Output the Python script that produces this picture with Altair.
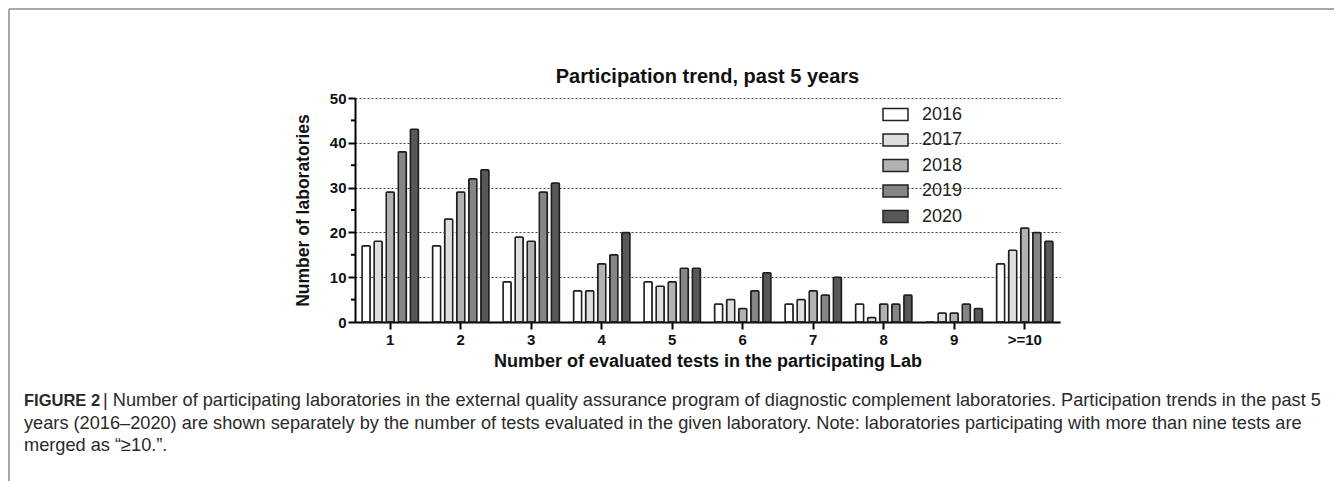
import altair as alt
import pandas as pd

categories = ["1", "2", "3", "4", "5", "6", "7", "8", "9", ">=10"]
years = ["2016", "2017", "2018", "2019", "2020"]
v2016 = [17, 17, 9, 7, 9, 4, 4, 4, 0, 13]
v2017 = [18, 23, 19, 7, 8, 5, 5, 1, 2, 16]
v2018 = [29, 29, 18, 13, 9, 3, 7, 4, 2, 21]
v2019 = [38, 32, 29, 15, 12, 7, 6, 4, 4, 20]
v2020 = [43, 34, 31, 20, 12, 11, 10, 6, 3, 18]
colors = ["#ffffff", "#dedede", "#b2b2b2", "#858585", "#585858"]
y_ticks = [0, 10, 20, 30, 40, 50]
y_minor = [5, 15, 25, 35, 45]

title_text = "Participation trend, past 5 years"
x_title = "Number of evaluated tests in the participating Lab"
y_title = "Number of laboratories"
cap_bold = "FIGURE 2"
cap_line1 = "| Number of participating laboratories in the external quality assurance program of diagnostic complement laboratories. Participation trends in the past 5"
cap_line2 = "years (2016\u20132020) are shown separately by the number of tests evaluated in the given laboratory. Note: laboratories participating with more than nine tests are"
cap_line3 = "merged as \u201c\u226510.\u201d."

rows = []
for yr, vals in zip(years, [v2016, v2017, v2018, v2019, v2020]):
    for c, v in zip(categories, vals):
        rows.append({"cat": c, "year": yr, "value": v})
df = pd.DataFrame(rows)

W, H = 705, 224
FONT = "Liberation Sans"

bars = alt.Chart(df).mark_bar(stroke="#1e1e1e", strokeWidth=1.5, cornerRadius=1).encode(
    x=alt.X("cat:N", sort=categories,
            scale=alt.Scale(paddingInner=0.2, paddingOuter=0.1),
            axis=alt.Axis(title=x_title, labelAngle=0, labelFont=FONT, labelFontSize=15,
                          labelFontWeight="bold", labelColor="#111", labelPadding=3,
                          titleFont=FONT, titleFontSize=18, titleFontWeight="bold",
                          titleColor="#111", titlePadding=5,
                          domainColor="#000", domainWidth=2, tickColor="#000",
                          tickWidth=2, tickSize=7, grid=False)),
    xOffset=alt.XOffset("year:N", sort=years,
                        scale=alt.Scale(paddingInner=0.33, paddingOuter=0)),
    y=alt.Y("value:Q", scale=alt.Scale(domain=[0, 50], nice=False),
            axis=alt.Axis(title=y_title, values=y_ticks, labelFont=FONT, labelFontSize=15,
                          labelFontWeight="bold", labelColor="#111", labelPadding=2,
                          titleFont=FONT, titleFontSize=17.5, titleFontWeight="bold",
                          titleColor="#111", titlePadding=17,
                          domainColor="#000", domainWidth=2, tickColor="#000",
                          tickWidth=2, tickSize=7, grid=True, gridDash=[2, 2],
                          gridColor="#444", gridWidth=1)),
    color=alt.Color("year:N", sort=years, scale=alt.Scale(domain=years, range=colors),
                    legend=alt.Legend(title=None, orient="none", legendX=527, legendY=3,
                                      symbolType="M-1,-0.48H1V0.48H-1Z", symbolSize=625,
                                      symbolStrokeColor="#222", symbolStrokeWidth=1.5,
                                      symbolOpacity=1,
                                      labelFont=FONT, labelFontSize=18, labelColor="#222",
                                      labelOffset=13, rowPadding=2.5)),
)

minor = alt.Chart(pd.DataFrame({"m": y_minor})).mark_rule(color="#000", strokeWidth=2).encode(
    y=alt.Y("m:Q"), x=alt.value(-4), x2=alt.value(0)
)

title = alt.Chart(pd.DataFrame({"t": [title_text]})).mark_text(
    font=FONT, fontSize=20, fontWeight="bold", color="#111", align="center", baseline="alphabetic"
).encode(text="t:N", x=alt.value(W / 2), y=alt.value(-15))

def cap(text, x, y, bold=False, size=18.2):
    return alt.Chart(pd.DataFrame({"t": [text]})).mark_text(
        font=FONT, fontSize=size, fontWeight="bold" if bold else "normal",
        color="#2a2a2a", align="left", baseline="middle"
    ).encode(text="t:N", x=alt.value(x), y=alt.value(y))

caps = [
    cap(cap_bold, 24 - 355, 401 - 98, bold=True, size=16.5),
    cap(cap_line1, 103 - 355, 401 - 98),
    cap(cap_line2, 24 - 355, 424 - 98),
    cap(cap_line3, 24 - 355, 446 - 98),
]

frame_top = alt.Chart(pd.DataFrame({"a": [0]})).mark_rule(color="#a9a9a9", strokeWidth=2).encode(
    x=alt.value(9 - 355), x2=alt.value(1342 - 355), y=alt.value(9 - 98)
)
frame_left = alt.Chart(pd.DataFrame({"a": [0]})).mark_rule(color="#a9a9a9", strokeWidth=2).encode(
    x=alt.value(9 - 355), y=alt.value(9 - 98), y2=alt.value(489 - 98)
)

chart = alt.layer(bars, minor, title, *caps, frame_top, frame_left).properties(
    width=W, height=H,
    autosize=alt.AutoSizeParams(type="none"),
    padding={"left": 347, "top": 90, "right": 274, "bottom": 159},
).configure_view(stroke=None)

chart.save("out.html", embed_options={"renderer": "svg", "actions": False})
